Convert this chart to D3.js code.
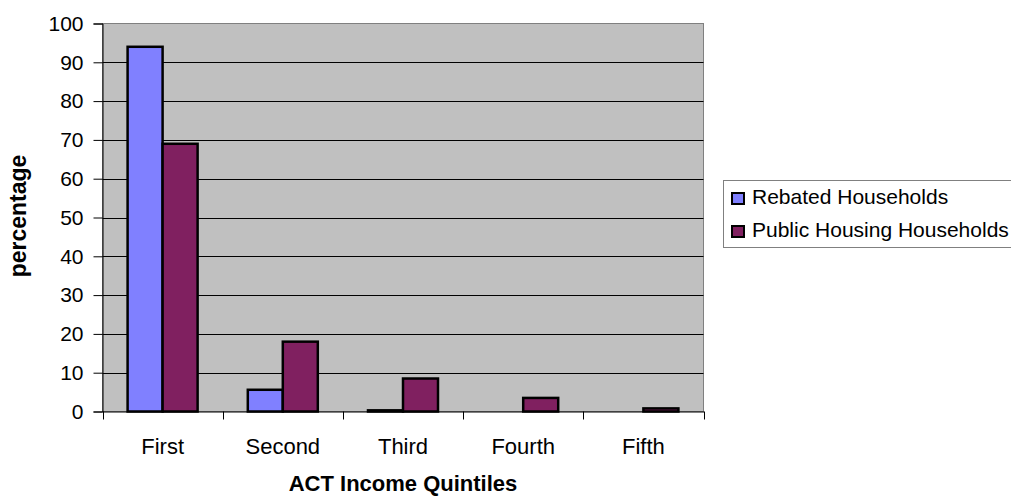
<!DOCTYPE html>
<html lang="en">
<head>
    <meta charset="UTF-8">
    <title>ACT Income Quintiles</title>
    <style>
        body {
            margin: 0;
            padding: 0;
            overflow: hidden;
            background-color: #ffffff;
        }

        svg {
            display: block;
            font-family: "Liberation Sans", Arial, sans-serif;
        }
    </style>
</head>
<body>
    <script src="https://d3js.org/d3.v7.min.js"></script>
    <script>
        const categories = ['First', 'Second', 'Third', 'Fourth', 'Fifth'];
        const seriesNames = ['Rebated Households', 'Public Housing Households'];
        const rebated = [94, 5.6, 0.3, 0, 0];
        const publicHousing = [69, 18, 8.5, 3.5, 0.8];
        const yTicks = [0, 10, 20, 30, 40, 50, 60, 70, 80, 90, 100];
        const colors = ['#8080ff', '#802060'];

        const width = 1011;
        const height = 496;
        const plot = { left: 102.5, top: 23.5, right: 703.5, bottom: 411.5 };
        const font = '"Liberation Sans", Arial, sans-serif';

        const svg = d3.select('body')
            .append('svg')
            .attr('width', width)
            .attr('height', height);

        const x = d3.scaleBand()
            .domain(categories)
            .range([plot.left, plot.right])
            .padding(0);

        // two bars of ~35px centred in each ~120px category
        const inner = d3.scaleBand()
            .domain(seriesNames)
            .range([0, x.bandwidth()])
            .paddingInner(0)
            .paddingOuter(0.717);

        const y = d3.scaleLinear()
            .domain([0, 100])
            .range([plot.bottom, plot.top]);

        // plot background
        svg.append('rect')
            .attr('x', plot.left)
            .attr('y', plot.top)
            .attr('width', plot.right - plot.left)
            .attr('height', plot.bottom - plot.top)
            .attr('fill', '#c0c0c0')
            .attr('stroke', '#808080')
            .attr('stroke-width', 1);

        // gridlines
        svg.append('g')
            .selectAll('line')
            .data(yTicks.filter(d => d > 0 && d < 100))
            .enter()
            .append('line')
            .attr('x1', plot.left)
            .attr('x2', plot.right)
            .attr('y1', d => Math.round(y(d)) + 0.5)
            .attr('y2', d => Math.round(y(d)) + 0.5)
            .attr('stroke', '#000')
            .attr('stroke-width', 1);

        // bars
        const data = [];
        categories.forEach((c, i) => {
            data.push({ cat: c, series: seriesNames[0], value: rebated[i], color: colors[0] });
            data.push({ cat: c, series: seriesNames[1], value: publicHousing[i], color: colors[1] });
        });

        svg.append('g')
            .selectAll('rect')
            .data(data.filter(d => d.value > 0))
            .enter()
            .append('rect')
            .attr('x', d => x(d.cat) + inner(d.series))
            .attr('y', d => y(d.value))
            .attr('width', inner.bandwidth())
            .attr('height', d => y(0) - y(d.value))
            .attr('fill', d => d.color)
            .attr('stroke', '#000')
            .attr('stroke-width', 2.5);

        // y axis
        const yAxis = d3.axisLeft(y)
            .tickValues(yTicks)
            .tickSize(9)
            .tickPadding(10);

        const gy = svg.append('g')
            .attr('transform', `translate(${plot.left},0)`)
            .call(yAxis);
        gy.attr('font-size', null).attr('font-family', null);
        gy.select('.domain').attr('stroke', '#000');
        gy.selectAll('.tick line').attr('stroke', '#000');
        gy.selectAll('.tick text')
            .attr('fill', '#000')
            .style('font-size', '21px')
            .style('font-family', font);

        // x axis
        const xAxis = d3.axisBottom(x)
            .tickSize(0)
            .tickPadding(26);

        const gx = svg.append('g')
            .attr('transform', `translate(0,${plot.bottom})`)
            .call(xAxis);
        gx.attr('font-size', null).attr('font-family', null);
        gx.select('.domain').attr('stroke', '#000');
        gx.selectAll('.tick text')
            .attr('fill', '#000')
            .attr('dy', 0)
            .attr('y', 42.5)
            .style('font-size', '22px')
            .style('font-family', font);

        // x tick marks at category boundaries
        const bounds = categories.map(c => x(c)).concat([plot.right]);
        gx.append('g')
            .selectAll('line')
            .data(bounds)
            .enter()
            .append('line')
            .attr('x1', d => Math.round(d) + 0.5)
            .attr('x2', d => Math.round(d) + 0.5)
            .attr('y1', 0)
            .attr('y2', 8)
            .attr('stroke', '#000');

        // axis titles
        svg.append('text')
            .attr('x', (plot.left + plot.right) / 2)
            .attr('y', 491)
            .attr('text-anchor', 'middle')
            .style('font-size', '22px')
            .attr('font-weight', 'bold')
            .text('ACT Income Quintiles');

        svg.append('text')
            .attr('transform', `translate(26,216) rotate(-90)`)
            .attr('text-anchor', 'middle')
            .style('font-size', '23px')
            .attr('font-weight', 'bold')
            .text('percentage');

        // legend
        const legend = svg.append('g');
        legend.append('rect')
            .attr('x', 723.5)
            .attr('y', 180.5)
            .attr('width', 300)
            .attr('height', 67)
            .attr('fill', '#fff')
            .attr('stroke', '#808080');

        const items = legend.selectAll('g.item')
            .data(seriesNames)
            .enter()
            .append('g')
            .attr('class', 'item')
            .attr('transform', (d, i) => `translate(0,${204 + i * 33})`);

        items.append('rect')
            .attr('x', 732)
            .attr('y', -11)
            .attr('width', 12)
            .attr('height', 11)
            .attr('fill', (d, i) => colors[i])
            .attr('stroke', '#000')
            .attr('stroke-width', 2);

        items.append('text')
            .attr('x', 752)
            .attr('y', 0)
            .style('font-size', '21px')
            .text(d => d);
    </script>
</body>
</html>
